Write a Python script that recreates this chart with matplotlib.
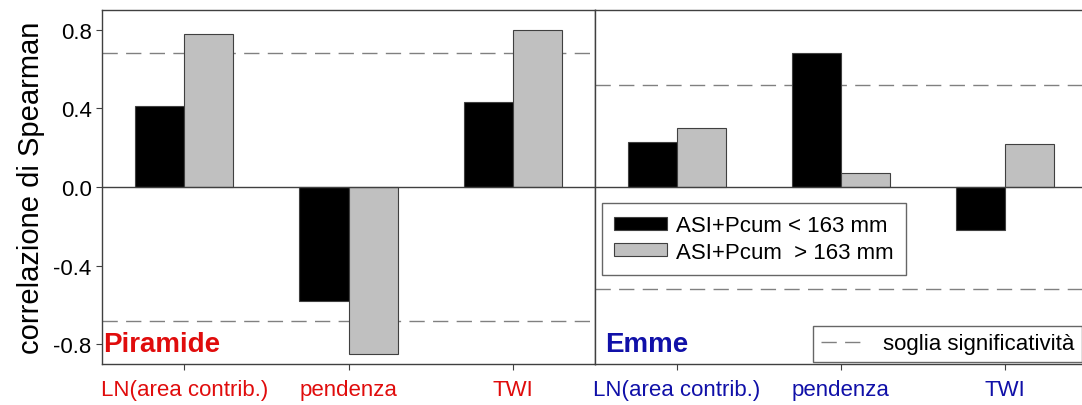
import numpy as np
import matplotlib.pyplot as plt
from matplotlib.patches import Patch
from matplotlib.lines import Line2D

plt.rcParams['font.family'] = ['Liberation Sans', 'DejaVu Sans']

categories = ['LN(area contrib.)', 'pendenza', 'TWI']
piramide_low = [0.41, -0.58, 0.43]
piramide_high = [0.78, -0.85, 0.80]
piramide_soglia = 0.68
emme_low = [0.23, 0.68, -0.22]
emme_high = [0.30, 0.07, 0.22]
emme_soglia = 0.52
yticks = [-0.8, -0.4, 0.0, 0.4, 0.8]

fig = plt.figure(figsize=(10.82, 4.06), dpi=100)
ax1 = fig.add_axes([0.0943, 0.101, 0.4556, 0.872])
ax2 = fig.add_axes([0.5499, 0.101, 0.4547, 0.872])

edge = '#404040'
black = '#000000'
grey = '#c0c0c0'
w = 0.3
x = np.arange(len(categories))

panels = [
    (ax1, piramide_low, piramide_high, piramide_soglia, 'Piramide', '#e00c0c', 0.003),
    (ax2, emme_low, emme_high, emme_soglia, 'Emme', '#1010a8', 0.02),
]
for ax, low, high, soglia, name, col, tx in panels:
    ax.bar(x - w / 2, low, w, color=black, edgecolor=edge, linewidth=0.8, zorder=2)
    ax.bar(x + w / 2, high, w, color=grey, edgecolor=edge, linewidth=0.8, zorder=2)
    ax.axhline(0, color=edge, lw=1, zorder=3)
    for s in (soglia, -soglia):
        ax.axhline(s, color='#808080', lw=1, dashes=(11, 6), zorder=1)
    ax.set_xlim(-0.5, 2.5)
    ax.set_ylim(-0.9, 0.9)
    ax.set_xticks(x)
    ax.set_xticklabels(categories, color=col, fontsize=16)
    ax.tick_params(axis='x', direction='out', length=4, color=edge, pad=7)
    for sp in ax.spines.values():
        sp.set_color(edge)
        sp.set_linewidth(1)
    ax.text(tx, 0.02, name, transform=ax.transAxes, color=col,
            fontsize=20, fontweight='bold', ha='left', va='bottom')

ax1.set_yticks(yticks)
ax1.set_yticklabels(['%.1f' % v for v in yticks], fontsize=16)
ax1.tick_params(axis='y', direction='out', length=4, color=edge)
ax1.set_ylabel('correlazione di Spearman', fontsize=21, labelpad=6)
ax2.set_yticks([])

h1 = [Patch(facecolor=black, edgecolor=edge, linewidth=0.8),
      Patch(facecolor=grey, edgecolor=edge, linewidth=0.8)]
leg1 = ax2.legend(h1, ['ASI+Pcum < 163 mm', 'ASI+Pcum  > 163 mm'],
                  loc='upper left', bbox_to_anchor=(0.014, 0.455),
                  fontsize=16, frameon=True, fancybox=False, edgecolor=edge,
                  handlelength=2.4, handleheight=0.5, borderpad=0.55,
                  labelspacing=0.25, handletextpad=0.4, borderaxespad=0)
leg1.get_frame().set_linewidth(1)
ax2.add_artist(leg1)

h2 = [Line2D([0], [0], color='#808080', lw=1, dashes=(11, 6))]
leg2 = ax2.legend(h2, ['soglia significatività'], loc='lower left',
                  bbox_to_anchor=(0.443, 0.005), fontsize=16, frameon=True,
                  fancybox=False, edgecolor=edge, handlelength=2.1,
                  borderpad=0.35, handletextpad=0.7, borderaxespad=0)
leg2.get_frame().set_linewidth(1)

fig.savefig('out.png', dpi=100)
